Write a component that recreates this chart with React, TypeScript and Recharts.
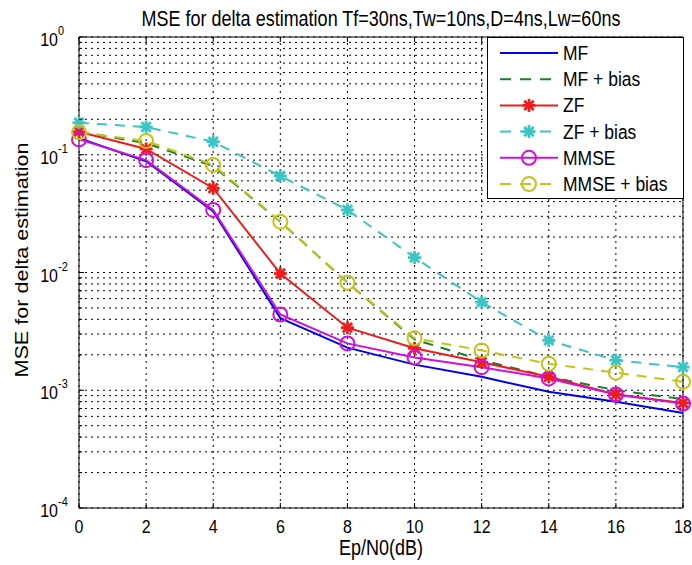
import React from 'react'
import { LineChart, Line, XAxis, YAxis, CartesianGrid, ReferenceLine } from 'recharts'

// Ep/N0 in dB
const snr = [0, 2, 4, 6, 8, 10, 12, 14, 16, 18]

// MSE values
const mf = [0.138, 0.088, 0.033, 0.0041, 0.0023, 0.00165, 0.0013, 0.00097, 0.0008, 0.00064]
const mfBias = [0.158, 0.125, 0.08, 0.027, 0.0082, 0.0027, 0.0018, 0.0013, 0.001, 0.00084]
const zf = [0.157, 0.112, 0.052, 0.0098, 0.0034, 0.00227, 0.00173, 0.0013, 0.00092, 0.00078]
const zfBias = [0.187, 0.172, 0.129, 0.066, 0.034, 0.0134, 0.0056, 0.00265, 0.0018, 0.00157]
const mmse = [0.135, 0.09, 0.034, 0.0044, 0.0025, 0.0019, 0.00157, 0.00126, 0.00092, 0.00077]
const mmseBias = [0.155, 0.131, 0.082, 0.027, 0.0082, 0.00276, 0.00218, 0.00168, 0.00141, 0.00118]

const xTicks = [0, 2, 4, 6, 8, 10, 12, 14, 16, 18]
const decades = [1e-4, 1e-3, 1e-2, 1e-1]
const mantissas = [1, 2, 3, 4, 5, 6, 7, 8, 9]
const yTicks = [...decades.flatMap((d) => mantissas.map((m) => +(d * m).toPrecision(3))), 1]

const FONT = '"Liberation Sans", Arial, sans-serif'
const STRETCH = 1.2 // the source image is a bit taller than wide

type Marker = 'none' | 'star' | 'circle'
const series: { key: string; name: string; color: string; dash?: string; marker: Marker; values: number[] }[] = [
  { key: 'mf', name: 'MF', color: '#0000ee', marker: 'none', values: mf },
  { key: 'mfBias', name: 'MF + bias', color: '#1a7f2a', dash: '10 8', marker: 'none', values: mfBias },
  { key: 'zf', name: 'ZF', color: '#ee1c1c', marker: 'star', values: zf },
  { key: 'zfBias', name: 'ZF + bias', color: '#3cc4c4', dash: '10 8', marker: 'star', values: zfBias },
  { key: 'mmse', name: 'MMSE', color: '#d010d8', marker: 'circle', values: mmse },
  { key: 'mmseBias', name: 'MMSE + bias', color: '#c4c418', dash: '10 8', marker: 'circle', values: mmseBias },
]

const data = snr.map((x, i) => {
  const row: Record<string, number> = { snr: x }
  series.forEach((s) => (row[s.key] = s.values[i]))
  return row
})

function MarkerShape({ cx, cy, type, color }: { cx: number; cy: number; type: Marker; color: string }) {
  if (type === 'star') {
    const r = 6.5
    const d = r * 0.72
    return (
      <g stroke={color} strokeWidth={2.8}>
        <line x1={cx - r} y1={cy} x2={cx + r} y2={cy} />
        <line x1={cx} y1={cy - r} x2={cx} y2={cy + r} />
        <line x1={cx - d} y1={cy - d} x2={cx + d} y2={cy + d} />
        <line x1={cx - d} y1={cy + d} x2={cx + d} y2={cy - d} />
      </g>
    )
  }
  if (type === 'circle') {
    return <circle cx={cx} cy={cy} r={7} fill="none" stroke={color} strokeWidth={2} />
  }
  return null
}

// horizontal text, stretched vertically like the source
function SText({ x, y, size, anchor = 'start', children }: { x: number; y: number; size: number; anchor?: string; children: React.ReactNode }) {
  return (
    <text
      transform={`translate(${x} ${y}) scale(1 ${STRETCH})`}
      textAnchor={anchor as any}
      fontSize={size}
      fontFamily={FONT}
      fill="#000"
    >
      {children}
    </text>
  )
}

const YTick = (props: any) => {
  const { y, payload } = props
  const lg = Math.log10(payload.value)
  const e = Math.round(lg)
  const major = Math.abs(lg - e) < 1e-6
  return (
    <g>
      <line x1={79} y1={y} x2={79 + (major ? 5 : 3)} y2={y} stroke="#000" />
      {major && (
        <SText x={58} y={y + 9} size={16} anchor="end">
          10
        </SText>
      )}
      {major && (
        <SText x={58} y={y - 2} size={11}>
          {e === 0 ? '0' : `-${-e}`}
        </SText>
      )}
    </g>
  )
}

const XTick = (props: any) => {
  const { x, payload } = props
  return (
    <g>
      <line x1={x} y1={508} x2={x} y2={503} stroke="#000" />
      <line x1={x} y1={37} x2={x} y2={42} stroke="#000" />
      <SText x={x} y={533} size={16} anchor="middle">
        {payload.value}
      </SText>
    </g>
  )
}

function LegendBox() {
  const rowH = 26.2
  return (
    <div
      style={{
        position: 'absolute',
        left: 487,
        top: 37,
        width: 195,
        height: 160,
        border: '1px solid #000',
        background: '#fff',
      }}
    >
      <svg width={195} height={160}>
        {series.map((s, i) => {
          const cy = 15 + i * rowH
          return (
            <g key={s.key}>
              <line x1={12} y1={cy} x2={70} y2={cy} stroke={s.color} strokeWidth={2} strokeDasharray={s.dash ? '11 9' : undefined} />
              <MarkerShape cx={41} cy={cy} type={s.marker} color={s.color} />
              <SText x={75} y={cy + 7} size={17.5}>
                {s.name}
              </SText>
            </g>
          )
        })}
      </svg>
    </div>
  )
}

export default function App() {
  return (
    <div style={{ position: 'absolute', left: 0, top: 0, width: 692, height: 565, background: '#fff' }}>
      <LineChart width={692} height={565} data={data} margin={{ top: 37, right: 9, left: 0, bottom: 0 }}>
        <CartesianGrid stroke="#000" strokeDasharray="2 4" strokeWidth={1} />
        <XAxis
          dataKey="snr"
          type="number"
          domain={[0, 18]}
          ticks={xTicks}
          interval={0}
          height={57}
          tickSize={0}
          tickMargin={0}
          stroke="#000"
          tick={<XTick />}
          label={{
            content: (p: any) => {
              const vb = p.viewBox
              return (
                <SText x={vb.x + vb.width / 2} y={555} size={18} anchor="middle">
                  Ep/N0(dB)
                </SText>
              )
            },
          }}
        />
        <YAxis
          type="number"
          scale="log"
          domain={[1e-4, 1]}
          allowDataOverflow
          ticks={yTicks}
          interval={0}
          width={79}
          tickSize={0}
          tickMargin={0}
          stroke="#000"
          tick={<YTick />}
          label={{
            content: () => {
              const cx = 28
              const cy = 260
              return (
                <text
                  transform={`translate(${cx} ${cy}) rotate(-90) scale(${STRETCH} 1)`}
                  textAnchor="middle"
                  fontSize={18}
                  fontFamily={FONT}
                  fill="#000"
                >
                  MSE for delta estimation
                </text>
              )
            },
          }}
        />
        <ReferenceLine y={1} stroke="#000" strokeWidth={1} />
        <ReferenceLine x={18} stroke="#000" strokeWidth={1} />
        {series.map((s) => (
          <Line
            key={s.key}
            dataKey={s.key}
            name={s.name}
            type="linear"
            stroke={s.color}
            strokeWidth={2}
            strokeDasharray={s.dash}
            dot={(p: any) => <MarkerShape key={`${s.key}-${p.index}`} cx={p.cx} cy={p.cy} type={s.marker} color={s.color} />}
            activeDot={false}
            isAnimationActive={false}
          />
        ))}
      </LineChart>
      <svg width={692} height={40} style={{ position: 'absolute', left: 0, top: 0 }}>
        <SText x={381} y={26} size={18} anchor="middle">
          MSE for delta estimation Tf=30ns,Tw=10ns,D=4ns,Lw=60ns
        </SText>
      </svg>
      <LegendBox />
    </div>
  )
}
